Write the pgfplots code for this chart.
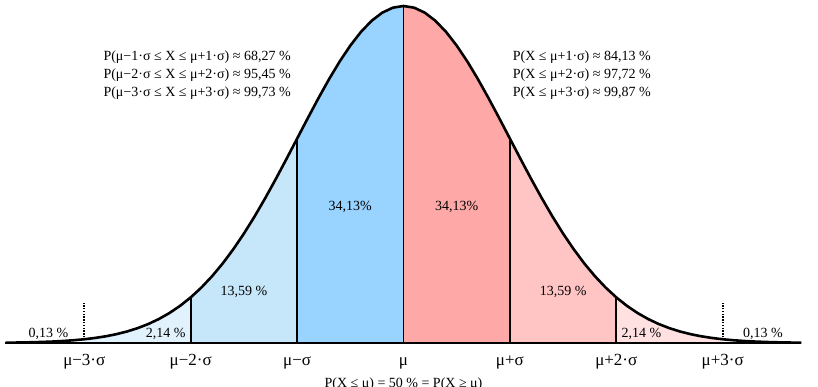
\documentclass[border=0pt]{standalone}
\usepackage{pgfplots}
\pgfplotsset{compat=1.18}
\usepgfplotslibrary{fillbetween}
\usepackage{fontspec}
\setmainfont{Liberation Serif}
\definecolor{bA}{HTML}{99D3FF}
\definecolor{bB}{HTML}{C6E6FA}
\definecolor{bC}{HTML}{E1F2FD}
\definecolor{rA}{HTML}{FFA8A8}
\definecolor{rB}{HTML}{FFC4C4}
\definecolor{rC}{HTML}{FFE1E1}
\tikzset{tk/.style={anchor=base,font=\fontsize{17}{20}\selectfont},
  tx/.style={anchor=base,font=\fontsize{14}{17}\selectfont},
  tw/.style={anchor=base west,inner sep=0pt,font=\fontsize{14}{17}\selectfont}}
\begin{document}
\begin{tikzpicture}[x=1pt,y=1pt]
\begin{axis}[at={(0,0)},anchor=south west,scale only axis,
  width=818pt,height=386pt,
  xmin=-3.7923,xmax=3.8957,ymin=-0.1276,ymax=1.0178,
  hide axis,clip=false]
\addplot[draw=none,name path=curve] coordinates {
(-3.74,0.00092)(-3.7,0.00106)(-3.6,0.00153)(-3.5,0.00219)(-3.4,0.00309)(-3.3,0.00432)
(-3.2,0.00598)(-3.1,0.00819)(-3.0,0.01111)(-2.9,0.01492)(-2.8,0.01984)(-2.7,0.02612)
(-2.6,0.03405)(-2.5,0.04394)(-2.4,0.05613)(-2.3,0.07101)(-2.2,0.08892)(-2.1,0.11025)
(-2.0,0.13534)(-1.9,0.16447)(-1.8,0.19790)(-1.7,0.23575)(-1.6,0.27804)(-1.5,0.32465)
(-1.4,0.37531)(-1.3,0.42956)(-1.2,0.48675)(-1.1,0.54607)(-1.0,0.60653)(-0.9,0.66698)
(-0.8,0.72615)(-0.7,0.78270)(-0.6,0.83527)(-0.5,0.88250)(-0.4,0.92312)(-0.3,0.95600)
(-0.2,0.98020)(-0.1,0.99501)(0,1)
(0.1,0.99501)(0.2,0.98020)(0.3,0.95600)(0.4,0.92312)(0.5,0.88250)(0.6,0.83527)
(0.7,0.78270)(0.8,0.72615)(0.9,0.66698)(1.0,0.60653)(1.1,0.54607)(1.2,0.48675)
(1.3,0.42956)(1.4,0.37531)(1.5,0.32465)(1.6,0.27804)(1.7,0.23575)(1.8,0.19790)
(1.9,0.16447)(2.0,0.13534)(2.1,0.11025)(2.2,0.08892)(2.3,0.07101)(2.4,0.05613)
(2.5,0.04394)(2.6,0.03405)(2.7,0.02612)(2.8,0.01984)(2.9,0.01492)(3.0,0.01111)
(3.1,0.00819)(3.2,0.00598)(3.3,0.00432)(3.4,0.00309)(3.5,0.00219)(3.6,0.00153)
(3.7,0.00106)(3.74,0.00092)};
\addplot[draw=none,name path=base] coordinates {(-3.74,0)(3.74,0)};
\addplot[fill=bC,draw=none] fill between[of=curve and base,soft clip={domain=-3:-2}];
\addplot[fill=bB,draw=none] fill between[of=curve and base,soft clip={domain=-2:-1}];
\addplot[fill=bA,draw=none] fill between[of=curve and base,soft clip={domain=-1:0}];
\addplot[fill=rA,draw=none] fill between[of=curve and base,soft clip={domain=0:1}];
\addplot[fill=rB,draw=none] fill between[of=curve and base,soft clip={domain=1:2}];
\addplot[fill=rC,draw=none] fill between[of=curve and base,soft clip={domain=2:3}];
\addplot[ycomb,black,line width=1.8pt,mark=none] coordinates {(-2,0.13534)(-1,0.60653)(0,1)(1,0.60653)(2,0.13534)};
\addplot[ycomb,black,line width=1.8pt,mark=none,dash pattern=on 1.4pt off 1.4pt] coordinates {(-3,0.1187)(3,0.1187)};
\addplot[black,line width=2.6pt,mark=none] coordinates {
(-3.74,0.00092)(-3.7,0.00106)(-3.6,0.00153)(-3.5,0.00219)(-3.4,0.00309)(-3.3,0.00432)
(-3.2,0.00598)(-3.1,0.00819)(-3.0,0.01111)(-2.9,0.01492)(-2.8,0.01984)(-2.7,0.02612)
(-2.6,0.03405)(-2.5,0.04394)(-2.4,0.05613)(-2.3,0.07101)(-2.2,0.08892)(-2.1,0.11025)
(-2.0,0.13534)(-1.9,0.16447)(-1.8,0.19790)(-1.7,0.23575)(-1.6,0.27804)(-1.5,0.32465)
(-1.4,0.37531)(-1.3,0.42956)(-1.2,0.48675)(-1.1,0.54607)(-1.0,0.60653)(-0.9,0.66698)
(-0.8,0.72615)(-0.7,0.78270)(-0.6,0.83527)(-0.5,0.88250)(-0.4,0.92312)(-0.3,0.95600)
(-0.2,0.98020)(-0.1,0.99501)(0,1)
(0.1,0.99501)(0.2,0.98020)(0.3,0.95600)(0.4,0.92312)(0.5,0.88250)(0.6,0.83527)
(0.7,0.78270)(0.8,0.72615)(0.9,0.66698)(1.0,0.60653)(1.1,0.54607)(1.2,0.48675)
(1.3,0.42956)(1.4,0.37531)(1.5,0.32465)(1.6,0.27804)(1.7,0.23575)(1.8,0.19790)
(1.9,0.16447)(2.0,0.13534)(2.1,0.11025)(2.2,0.08892)(2.3,0.07101)(2.4,0.05613)
(2.5,0.04394)(2.6,0.03405)(2.7,0.02612)(2.8,0.01984)(2.9,0.01492)(3.0,0.01111)
(3.1,0.00819)(3.2,0.00598)(3.3,0.00432)(3.4,0.00309)(3.5,0.00219)(3.6,0.00153)
(3.7,0.00106)(3.74,0.00092)};
\addplot[black,line width=2.6pt,mark=none] coordinates {(-3.745,0)(3.726,0)};
% tick labels
\node[tk] at (axis cs:-3,-0.0682) {μ−3·σ};
\node[tk] at (axis cs:-2,-0.0682) {μ−2·σ};
\node[tk] at (axis cs:-1,-0.0682) {μ−σ};
\node[tk] at (axis cs:0,-0.0682) {μ};
\node[tk] at (axis cs:1,-0.0682) {μ+σ};
\node[tk] at (axis cs:2,-0.0682) {μ+2·σ};
\node[tk] at (axis cs:3,-0.0682) {μ+3·σ};
\node[tx] at (axis cs:0,-0.1306) {P(X ≤ μ) = 50 \% = P(X ≥ μ)};
\node[tx] at (axis cs:-0.5,0.3926) {34,13\%};
\node[tx] at (axis cs:0.5,0.3926) {34,13\%};
\node[tx] at (axis cs:-1.5,0.1395) {13,59 \%};
\node[tx] at (axis cs:1.5,0.1395) {13,59 \%};
\node[tx] at (axis cs:-2.235,0.0178) {2,14 \%};
\node[tx] at (axis cs:2.237,0.0178) {2,14 \%};
\node[tx] at (axis cs:-3.336,0.0178) {0,13 \%};
\node[tx] at (axis cs:3.379,0.0178) {0,13 \%};
\node[tw] at (axis cs:-2.821,0.8368) {P(μ−1·σ ≤ X ≤ μ+1·σ) ≈ 68,27 \%};
\node[tw] at (axis cs:-2.821,0.7849) {P(μ−2·σ ≤ X ≤ μ+2·σ) ≈ 95,45 \%};
\node[tw] at (axis cs:-2.821,0.7329) {P(μ−3·σ ≤ X ≤ μ+3·σ) ≈ 99,73 \%};
\node[tw] at (axis cs:1.026,0.8368) {P(X ≤ μ+1·σ) ≈ 84,13 \%};
\node[tw] at (axis cs:1.026,0.7849) {P(X ≤ μ+2·σ) ≈ 97,72 \%};
\node[tw] at (axis cs:1.026,0.7329) {P(X ≤ μ+3·σ) ≈ 99,87 \%};
\end{axis}
\pgfresetboundingbox
\useasboundingbox (0,0) rectangle (818,386);
\end{tikzpicture}
\end{document}
